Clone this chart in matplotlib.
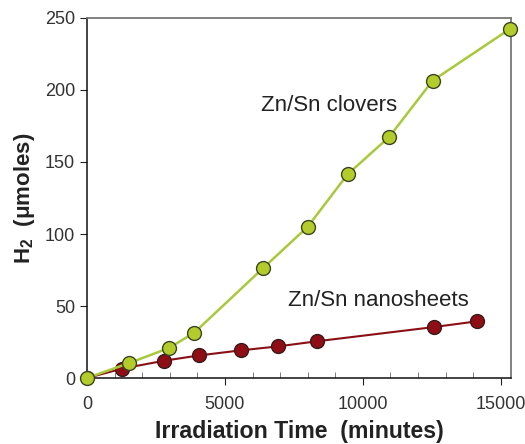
import numpy as np
from matplotlib import pyplot as plt
from matplotlib.ticker import MultipleLocator

plt.rcParams['font.family'] = ['Liberation Sans', 'DejaVu Sans']
plt.rcParams['mathtext.fontset'] = 'custom'
plt.rcParams['mathtext.rm'] = 'Liberation Sans'
plt.rcParams['mathtext.bf'] = 'Liberation Sans:bold'

# Zn/Sn clovers
t_clovers = [0, 1530, 2970, 3890, 6390, 8000, 9450, 10960, 12530, 15340]
h2_clovers = [0, 10.4, 20.8, 31.5, 76.4, 105, 141.5, 167.5, 206.5, 242.5]

# Zn/Sn nanosheets
t_sheets = [0, 1270, 2790, 4070, 5570, 6940, 8330, 12580, 14150]
h2_sheets = [0, 6.5, 12.0, 15.7, 19.2, 22.0, 25.5, 35.4, 39.4]

fig = plt.figure(figsize=(5.25, 4.44), dpi=100)
ax = fig.add_axes([0.1657, 0.1486, 0.8076, 0.8109])

ax.plot(t_sheets, h2_sheets, '-o', color='#8a1016', lw=1.5,
        mfc='#8f0d14', mec='#3a1a1a', mew=1.0, ms=10, zorder=3)
ax.plot(t_clovers, h2_clovers, '-o', color='#a9c93c', lw=1.8,
        mfc='#b3cc2c', mec='#3b4420', mew=1.0, ms=10, zorder=4, clip_on=False)

ax.text(8790, 189.5, 'Zn/Sn clovers', fontsize=16, ha='center', va='center', color='#222222')
ax.text(10550, 53.5, 'Zn/Sn nanosheets', fontsize=16, ha='center', va='center', color='#222222')

ax.set_xlim(0, 15370)
ax.set_ylim(0, 250)
ax.set_xticks([0, 5000, 10000, 15000])
ax.xaxis.set_minor_locator(MultipleLocator(1000))
ax.set_yticks([0, 50, 100, 150, 200, 250])

ax.tick_params(axis='both', which='major', direction='out', length=5,
               labelsize=13, colors='#222222', labelcolor='#333333')
ax.tick_params(axis='x', which='major', pad=8)
ax.tick_params(axis='x', which='minor', direction='in', length=4, color='#666666')

for s in ['top', 'right']:
    ax.spines[s].set_color('#777777')
    ax.spines[s].set_linewidth(1.3)
for s in ['left', 'bottom']:
    ax.spines[s].set_color('#111111')
    ax.spines[s].set_linewidth(1.1)

ax.set_xlabel('Irradiation Time  (minutes)', fontsize=16.7, fontweight='bold',
              color='#222222', labelpad=5)
ax.set_ylabel(r'H$_\mathbf{2}$  ($\mathbf{\mu}$moles)', fontsize=16, fontweight='bold',
              color='#222222', labelpad=6)

fig.savefig('out.png', dpi=100)
